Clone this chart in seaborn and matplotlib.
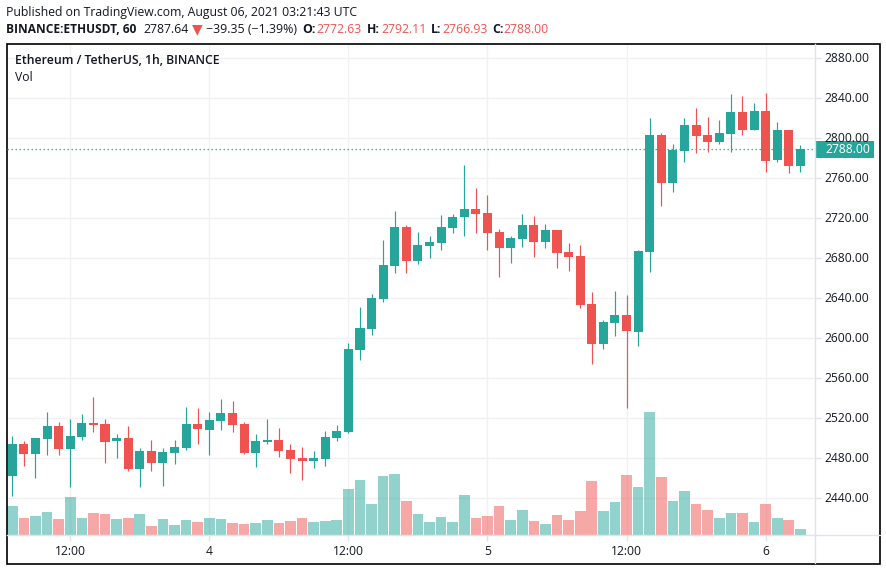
import numpy as np
import pandas as pd
import matplotlib
matplotlib.use("Agg")
import matplotlib.pyplot as plt
from matplotlib.patches import Rectangle
import seaborn as sns

# hourly candles
opens = [2461.5, 2493.5, 2483.5, 2498.5, 2511.5, 2488.5, 2500.5, 2514.5, 2513.5, 2496.5,
         2499.5, 2468.5, 2486.5, 2474.5, 2484.5, 2489.5, 2513.5, 2507.5, 2516.5, 2524.5,
         2513.5, 2484.5, 2495.5, 2497.5, 2487.5, 2479.5, 2476.5, 2478.5, 2499.5, 2505.5,
         2587.5, 2608.5, 2638.5, 2671.5, 2710.5, 2676.5, 2691.5, 2694.5, 2709.5, 2720.5,
         2728.5, 2724.5, 2705.5, 2689.5, 2698.5, 2712.5, 2695.5, 2707.5, 2685.5, 2681.5,
         2633.5, 2593.5, 2614.5, 2622.5, 2605.5, 2685.5, 2802.5, 2754.5, 2786.5, 2812.5,
         2802.5, 2795.5, 2803.5, 2825.5, 2807.5, 2826.5, 2777.5, 2807.5, 2771.5]
highs = [2501.5, 2496.5, 2499.5, 2525.5, 2515.5, 2518.5, 2523.5, 2540.5, 2518.5, 2503.5,
         2511.5, 2489.5, 2497.5, 2489.5, 2497.5, 2530.5, 2529.5, 2525.5, 2538.5, 2536.5,
         2515.5, 2503.5, 2518.5, 2509.5, 2493.5, 2490.5, 2486.5, 2506.5, 2512.5, 2594.5,
         2630.5, 2643.5, 2697.5, 2726.5, 2712.5, 2705.5, 2701.5, 2722.5, 2723.5, 2772.5,
         2749.5, 2742.5, 2708.5, 2701.5, 2723.5, 2721.5, 2713.5, 2707.5, 2694.5, 2692.5,
         2645.5, 2617.5, 2646.5, 2642.5, 2687.5, 2819.5, 2804.5, 2793.5, 2819.5, 2829.5,
         2820.5, 2817.5, 2843.5, 2841.5, 2834.5, 2844.5, 2815.5, 2807.5, 2792.5]
lows = [2441.5, 2471.5, 2459.5, 2482.5, 2482.5, 2450.5, 2497.5, 2505.5, 2474.5, 2479.5,
        2466.5, 2450.5, 2466.5, 2451.5, 2473.5, 2487.5, 2493.5, 2482.5, 2507.5, 2505.5,
        2483.5, 2470.5, 2493.5, 2480.5, 2464.5, 2457.5, 2469.5, 2471.5, 2496.5, 2504.5,
        2577.5, 2602.5, 2635.5, 2664.5, 2664.5, 2673.5, 2679.5, 2687.5, 2704.5, 2701.5,
        2704.5, 2687.5, 2660.5, 2674.5, 2690.5, 2680.5, 2689.5, 2669.5, 2666.5, 2629.5,
        2573.5, 2588.5, 2601.5, 2529.5, 2591.5, 2665.5, 2731.5, 2745.5, 2775.5, 2784.5,
        2785.5, 2793.5, 2785.5, 2802.5, 2807.5, 2765.5, 2775.5, 2764.5, 2765.5]
closes = [2493.5, 2483.5, 2499.5, 2511.5, 2488.5, 2501.5, 2514.5, 2512.5, 2495.5, 2499.5,
          2468.5, 2486.5, 2474.5, 2485.5, 2490.5, 2513.5, 2508.5, 2517.5, 2524.5, 2512.5,
          2484.5, 2496.5, 2497.5, 2486.5, 2478.5, 2476.5, 2479.5, 2500.5, 2506.5, 2588.5,
          2609.5, 2639.5, 2672.5, 2710.5, 2676.5, 2692.5, 2695.5, 2710.5, 2720.5, 2728.5,
          2723.5, 2704.5, 2689.5, 2699.5, 2712.5, 2695.5, 2707.5, 2684.5, 2680.5, 2632.5,
          2593.5, 2615.5, 2622.5, 2606.5, 2686.5, 2802.5, 2754.5, 2787.5, 2812.5, 2801.5,
          2795.5, 2804.5, 2825.5, 2807.5, 2826.5, 2776.5, 2807.5, 2771.5, 2788.5]
volumes = [29, 17, 19, 23, 16, 38, 17, 22, 21, 16, 17, 21, 9, 16, 10, 15, 13, 17, 16, 12,
           11, 12, 15, 12, 14, 17, 13, 14, 15, 46, 55, 31, 59, 61, 34, 21, 13, 18, 13, 40,
           17, 19, 29, 15, 25, 14, 11, 20, 15, 24, 54, 24, 33, 60, 48, 123, 58, 34, 44, 31,
           25, 17, 22, 22, 13, 31, 17, 15, 6]

price_ticks = list(range(2440, 2881, 40))
time_tick_idx = [5, 17, 29, 41, 53, 65]
time_tick_labels = ["12:00", "4", "12:00", "5", "12:00", "6"]

GREEN = "#26a69a"
RED = "#ef5350"
GRID = "#f1f1f3"
AXIS = "#e0e3eb"
TEXT = "#131722"
W, H = 886, 570

df = pd.DataFrame({"idx": range(len(opens)), "open": opens, "high": highs,
                   "low": lows, "close": closes, "vol": volumes})
df["dir"] = np.where(df["close"] >= df["open"], "up", "down")
palette = {"up": GREEN, "down": RED}

sns.set_theme(style="white")
plt.rcParams["font.family"] = ["Open Sans", "DejaVu Sans"]

fig = plt.figure(figsize=(W / 100, H / 100), dpi=100)
ax = fig.add_axes([7 / W, 1 - 535 / H, (815 - 7) / W, (535 - 44) / H])
ax.set_facecolor("none")

# volume underneath on its own axis
vax = ax.twinx()
vax.set_zorder(0)
ax.set_zorder(1)
vax.set_facecolor("white")
sns.barplot(data=df, x="idx", y="vol", hue="dir", palette=palette, native_scale=True,
            dodge=False, width=0.92, alpha=0.5, saturation=1, legend=False,
            linewidth=0, ax=vax)
vax.set_ylim(0, 491)
vax.set_yticks([])
vax.set_ylabel("")
vax.set_xlabel("")
for s in vax.spines.values():
    s.set_visible(False)

# grid goes on the volume axis so bars sit on top
for p in price_ticks:
    vax.axhline((p - 2402.5), color=GRID, lw=1, zorder=0)
for t in time_tick_idx:
    vax.axvline(t, color=GRID, lw=1, zorder=0)

colors = df["dir"].map(palette)
ax.vlines(df["idx"], df["low"], df["high"], colors=colors, lw=0.85, zorder=3)
bottoms = df[["open", "close"]].min(axis=1)
heights = (df["close"] - df["open"]).abs()
ax.bar(df["idx"], heights, bottom=bottoms, width=0.78, color=colors, lw=0, zorder=4)

ax.axhline(closes[-1], color=GREEN, lw=0.9, ls=(0, (1.1, 2.1)), zorder=5)

ax.set_xlim(-0.457, 69.26)
vax.set_xlim(-0.457, 69.26)
ax.set_ylim(2402.5, 2893.5)

ax.yaxis.tick_right()
ax.set_yticks(price_ticks)
ax.set_yticklabels([f"{p}.00" for p in price_ticks])
ax.set_xticks(time_tick_idx)
ax.set_xticklabels(time_tick_labels)
ax.tick_params(axis="y", length=4, width=1, color=AXIS, labelcolor=TEXT, labelsize=8.7, pad=2.5, right=True)
ax.tick_params(axis="x", length=4, width=1, color=AXIS, labelcolor=TEXT, labelsize=8.7, pad=3.5, bottom=True)
ax.set_xlabel("")
ax.set_ylabel("")
for side, s in ax.spines.items():
    s.set_visible(side in ("right", "bottom"))
    s.set_color(AXIS)
    s.set_linewidth(1)


def px_text(x, y, s, **kw):
    kw.setdefault("fontsize", 8.8)
    kw.setdefault("color", TEXT)
    return fig.text(x / W, 1 - y / H, s, va="center", ha="left", **kw)


# outer frame and vertical extension of the price axis
fig.add_artist(Rectangle((6.5 / W, 1 - 563.5 / H), 873 / W, 520 / H, transform=fig.transFigure,
                         fill=False, ec="black", lw=1.2))
fig.add_artist(plt.Line2D([815 / W, 815 / W], [1 - 563 / H, 1 - 535 / H], color=AXIS, lw=1))
fig.add_artist(plt.Line2D([815 / W, 880 / W], [1 - 535 / H, 1 - 535 / H], color=AXIS, lw=1))

# last price tag sits over the tick labels
fig.add_artist(Rectangle((815 / W, 1 - 158 / H), 59 / W, 17 / H, transform=fig.transFigure,
                         fc=GREEN, ec="none"))
px_text(825, 149.5, f"{closes[-1]:.0f}.00", color="white", fontsize=8.7)

px_text(6, 12.5, "Published on TradingView.com, August 06, 2021 03:21:43 UTC")
px_text(6, 29.5, "BINANCE:ETHUSDT, 60", fontweight="bold", fontsize=8.6)
px_text(143, 29.5, "2787.64")
fig.text(197 / W, 1 - 29.5 / H, "▼", color=RED, fontsize=10, va="center", ha="center",
         family="DejaVu Sans")
px_text(206.5, 29.5, "−39.35 (−1.39%)", fontsize=8.9)
labels = [(302, "O:"), (367, "H:"), (431, "L:"), (492, "C:")]
values = [(316.5, "2772.63"), (381, "2792.11"), (442, "2766.93"), (503.5, "2788.00")]
for x, s in labels:
    px_text(x, 29.5, s, fontweight="bold")
for x, s in values:
    px_text(x, 29.5, s, color=RED)

px_text(15, 60.5, "Ethereum / TetherUS, 1h, BINANCE", fontweight="semibold")
px_text(15, 77.5, "Vol")

fig.savefig("out.png", dpi=100)
